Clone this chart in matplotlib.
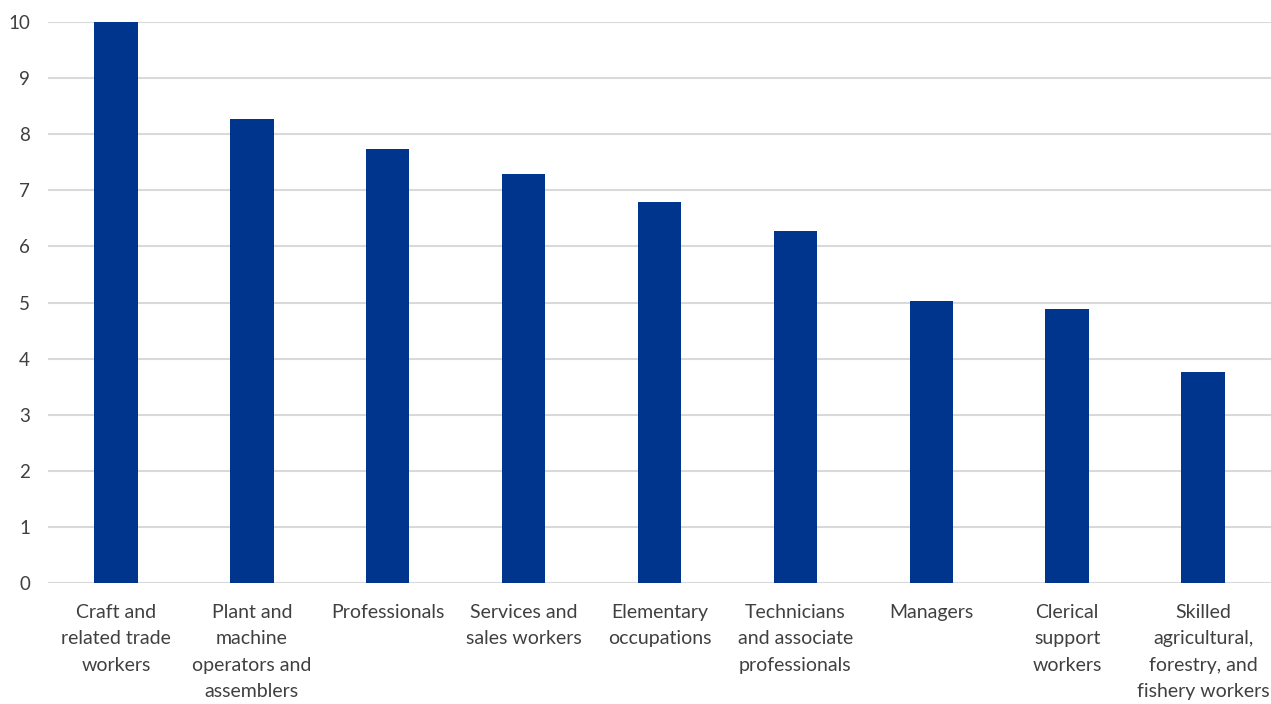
import matplotlib
matplotlib.use('Agg')
import matplotlib.pyplot as plt
import numpy as np

plt.rcParams['font.family'] = ['Lato', 'DejaVu Sans']

categories = [
    'Craft and\nrelated trade\nworkers',
    'Plant and\nmachine\noperators and\nassemblers',
    'Professionals',
    'Services and\nsales workers',
    'Elementary\noccupations',
    'Technicians\nand associate\nprofessionals',
    'Managers',
    'Clerical\nsupport\nworkers',
    'Skilled\nagricultural,\nforestry, and\nfishery workers',
]
values = [10.0, 8.27, 7.74, 7.29, 6.80, 6.27, 5.02, 4.88, 3.76]

fig = plt.figure(figsize=(12.71, 7.04), dpi=100)
ax = fig.add_axes([48 / 1271, 1 - 583 / 704, 1 - 48 / 1271, (583 - 22) / 704])

x = np.arange(len(categories))
ax.bar(x, values, width=0.32, color='#00358E', zorder=3)

ax.set_xlim(-0.5, len(categories) - 0.5)
ax.set_ylim(0, 10)
ax.set_yticks(np.arange(0, 11, 1))
ax.grid(axis='y', color='#d9d9d9', linewidth=1.5, zorder=0)
ax.set_axisbelow(True)
for s in ax.spines.values():
    s.set_visible(False)

ax.set_xticks(x)
ax.set_xticklabels(categories, fontsize=14, color='#404040', linespacing=1.68)
ax.tick_params(axis='x', length=0, pad=15)
ax.tick_params(axis='y', length=0, pad=13, labelsize=13.5, labelcolor='#404040')

fig.savefig('out.png', dpi=100)
